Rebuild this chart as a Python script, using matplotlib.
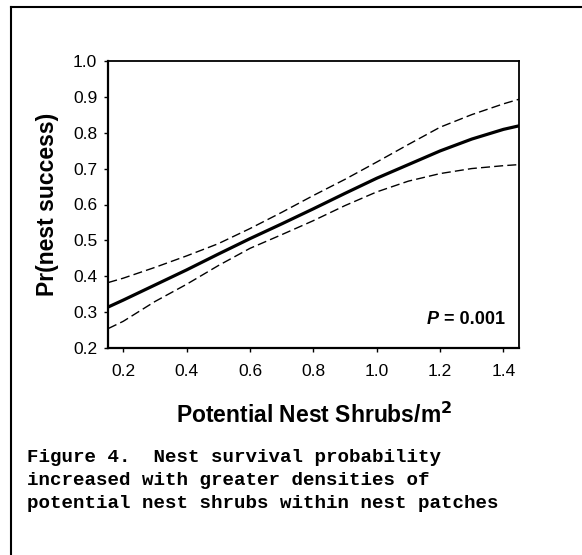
import matplotlib
matplotlib.use("Agg")
from matplotlib import pyplot as plt
from matplotlib.lines import Line2D

# values
shrub_density = [0.153, 0.2, 0.3, 0.4, 0.5, 0.6, 0.7, 0.8, 0.9, 1.0, 1.1, 1.2, 1.3, 1.4, 1.45]
nest_success = [0.315, 0.334, 0.376, 0.418, 0.462, 0.505, 0.546, 0.588, 0.631, 0.673, 0.711, 0.749, 0.782, 0.809, 0.819]
upper_ci = [0.383, 0.395, 0.425, 0.457, 0.491, 0.533, 0.578, 0.625, 0.670, 0.718, 0.767, 0.815, 0.850, 0.880, 0.893]
lower_ci = [0.255, 0.275, 0.330, 0.378, 0.430, 0.478, 0.516, 0.555, 0.597, 0.635, 0.665, 0.686, 0.700, 0.708, 0.711]

x_ticks = [0.2, 0.4, 0.6, 0.8, 1.0, 1.2, 1.4]
y_ticks = [0.2, 0.3, 0.4, 0.5, 0.6, 0.7, 0.8, 0.9, 1.0]

caption = ["Figure 4.  Nest survival probability",
           "increased with greater densities of",
           "potential nest shrubs within nest patches"]

plt.rcParams['font.family'] = ['Liberation Sans', 'DejaVu Sans']

W, H = 582, 555
fig = plt.figure(figsize=(W / 100, H / 100), dpi=100)
ax = fig.add_axes([108.3 / W, 1 - 348.3 / H, 411 / W, 287.6 / H])

ax.plot(shrub_density, nest_success, color='black', lw=2.3, solid_capstyle='butt')
for ci in (upper_ci, lower_ci):
    ax.plot(shrub_density, ci, color='black', lw=1.0, dashes=(6.5, 3))

ax.set_xlim(0.153, 1.45)
ax.set_ylim(0.2, 1.0)
ax.set_xticks(x_ticks)
ax.set_xticklabels([f"{t:.1f}" for t in x_ticks])
ax.set_yticks(y_ticks)
ax.set_yticklabels([f"{t:.1f}" for t in y_ticks])
ax.tick_params(direction='out', length=3, width=1, labelsize=12.5, colors='black')
ax.tick_params(axis='x', pad=8)
ax.tick_params(axis='y', pad=5)
for side in ('left', 'bottom'):
    ax.spines[side].set_linewidth(1.6)
for side in ('top', 'right'):
    ax.spines[side].set_linewidth(1.3)

# P value: italic P placed just left of the rest of the text
rest = ax.text(0.966, 0.07, " = 0.001", transform=ax.transAxes,
               ha='right', va='bottom', fontsize=13, fontweight='bold')
ax.annotate("P", xy=(0, 0), xycoords=rest, xytext=(-0.5, 0), textcoords='offset points',
            ha='right', va='bottom', fontsize=13, fontweight='bold', style='italic')

fig.text(47.5 / W, 1 - 204 / H, "Pr(nest success)", rotation=90,
         ha='center', va='center', fontsize=16.5, fontweight='bold')
fig.text(313.8 / W, 1 - 423 / H, r"Potential Nest Shrubs/m$^{\mathbf{2}}$",
         ha='center', va='baseline', fontsize=16.5, fontweight='bold')

for i, line in enumerate(caption):
    fig.text(27 / W, 1 - (462 + 23 * i) / H, line, ha='left', va='baseline',
             family='Liberation Mono', fontweight='bold', fontsize=13.8)

# page frame: left and top edges
fig.add_artist(Line2D([11 / W, 11 / W], [0, 1 - 7 / H], transform=fig.transFigure,
                      color='black', lw=1.5))
fig.add_artist(Line2D([11 / W, 1], [1 - 7 / H, 1 - 7 / H], transform=fig.transFigure,
                      color='black', lw=1.5))

fig.savefig("out.png", dpi=100)
